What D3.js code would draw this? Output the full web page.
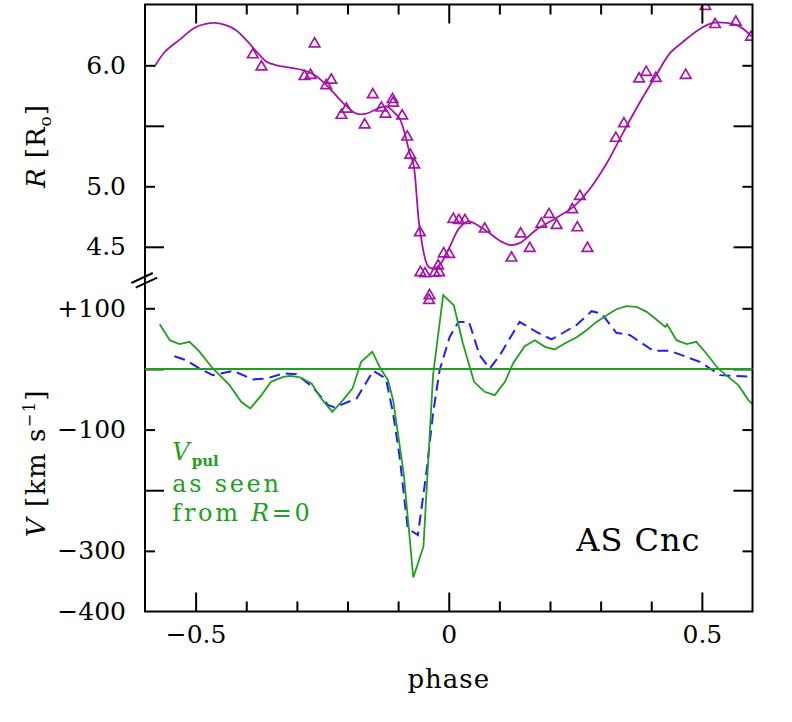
<!DOCTYPE html>
<html>
<head>
<meta charset="utf-8">
<script src="https://cdn.jsdelivr.net/npm/d3@7/dist/d3.min.js"></script>
<style>
  body { margin: 0; background: #fff; }
  text { font-family: "DejaVu Serif", serif; }
</style>
</head>
<body>
<div id="chart"></div>
<script>
// radius fit curve (phase, R in solar radii)
var rCurvePhase = [-0.581,-0.561,-0.532,-0.502,-0.482,-0.462,-0.439,-0.420,-0.397,-0.377,-0.360,-0.340,-0.314,-0.288,-0.265,-0.245,-0.229,-0.209,-0.182,-0.163,-0.136,-0.123,-0.103,-0.097,-0.087,-0.077,-0.070,-0.057,-0.041,-0.031,-0.018,0.002,0.020,0.038,0.068,0.101,0.121,0.140,0.173,0.213,0.246,0.279,0.312,0.344,0.377,0.410,0.437,0.463,0.496,0.522,0.549,0.575,0.598];
var rCurveVal = [5.99,6.11,6.21,6.31,6.34,6.35,6.33,6.29,6.195,6.10,6.03,6.00,5.98,5.96,5.92,5.85,5.78,5.69,5.60,5.60,5.65,5.66,5.59,5.56,5.44,5.27,5.19,4.64,4.34,4.32,4.35,4.50,4.65,4.71,4.65,4.55,4.515,4.53,4.64,4.74,4.83,4.98,5.19,5.44,5.69,5.92,6.10,6.195,6.30,6.35,6.35,6.32,6.24];

// radius measurements (triangles)
var rObsPhase = [-0.387,-0.370,-0.265,-0.285,-0.273,-0.242,-0.232,-0.212,-0.202,-0.166,-0.150,-0.133,-0.125,-0.111,-0.110,-0.092,-0.082,-0.076,-0.068,-0.057,-0.056,-0.047,-0.039,-0.038,-0.028,-0.019,-0.021,-0.010,0.001,0.009,0.020,0.032,0.071,0.124,0.142,0.160,0.183,0.198,0.213,0.244,0.254,0.259,0.274,0.330,0.346,0.376,0.390,0.409,0.468,0.507,0.526,0.567,0.597];
var rObsVal = [6.10,6.00,6.19,5.92,5.93,5.845,5.89,5.60,5.65,5.52,5.77,5.66,5.61,5.73,5.70,5.595,5.42,5.27,5.19,4.63,4.30,4.29,4.07,4.11,4.295,4.30,4.355,4.455,4.45,4.74,4.73,4.73,4.66,4.42,4.62,4.50,4.70,4.78,4.69,4.82,4.67,4.93,4.50,5.41,5.53,5.90,5.955,5.905,5.93,6.50,6.35,6.37,6.245];

// pulsation velocity as seen from R=0 (green)
var vPulPhase = [-0.571,-0.551,-0.532,-0.512,-0.492,-0.466,-0.433,-0.410,-0.392,-0.370,-0.351,-0.327,-0.314,-0.294,-0.271,-0.252,-0.230,-0.209,-0.190,-0.173,-0.151,-0.136,-0.120,-0.110,-0.089,-0.070,-0.050,-0.031,-0.011,0.010,0.028,0.050,0.071,0.091,0.111,0.127,0.150,0.170,0.190,0.209,0.229,0.252,0.272,0.292,0.312,0.331,0.351,0.371,0.391,0.410,0.428,0.431,0.450,0.470,0.489,0.509,0.532,0.552,0.572,0.592,0.600];
var vPulVal = [73.8,47.4,40.9,44.7,28.2,0.8,-26.7,-54.2,-65.1,-43.2,-21.2,-13,-11.4,-14,-23.9,-48.6,-70.7,-51.4,-32.1,11.7,28.2,2.5,-18.5,-51,-172,-344,-293,-10,121.6,105,42,-21.2,-37.7,-43.2,-21.2,9,37.6,47.4,36.4,32.1,42,51.9,63.9,77.6,88.6,98.5,103.5,102.3,94.1,81.5,69.4,73.8,47.4,40.9,44.7,25.5,0.8,-13,-26.7,-51.4,-58];

// radial velocity curve (blue dashed)
var vRadPhase = [-0.542,-0.519,-0.492,-0.466,-0.426,-0.387,-0.360,-0.327,-0.301,-0.271,-0.238,-0.225,-0.182,-0.149,-0.124,-0.110,-0.097,-0.081,-0.061,-0.044,-0.031,-0.018,0.002,0.019,0.040,0.061,0.081,0.101,0.140,0.173,0.203,0.252,0.282,0.302,0.331,0.358,0.404,0.437,0.496,0.536,0.600];
var vRadVal = [21,14.5,0.8,-10.2,-3.1,-17.3,-15.7,-7.4,-8.6,-28.3,-59.6,-63.4,-48.6,-3.1,-16,-73,-145,-263,-274,-170,-73,-2,53,77.6,77.6,22.7,0.8,22.7,77.6,61.1,48.6,72.2,95.2,91.4,59.5,55.7,29.8,29.8,11.7,-10.2,-13];

var xMajor = [-0.5, 0, 0.5];
var xMinor = [-0.4, -0.3, -0.2, -0.1, 0.1, 0.2, 0.3, 0.4];
var rLabelTicks = [6.0, 5.0, 4.5];
var rShortTicks = [6.0, 5.0];
var rLongTicks = [5.5, 4.5];
var vLabelTicks = [100, -100, -300, -400];
var vShortTicks = [100, -100, -300];
var vLongTicks = [0, -200];

(function(){
  var width = 792,
      height = 722;
  var left = 145, right = 752.5, top = 4.5, bottom = 611.5;

  var purple = '#a514a8',
      green = '#20a020',
      blue = '#1e1eff';

  var svg = d3.select('#chart')
    .append('svg')
    .attr('width', width)
    .attr('height', height);

  var x = d3.scaleLinear().domain([-0.6, 0.6]).range([left, right]);
  var yR = d3.scaleLinear().domain([4.0, 6.5]).range([307.3, 4.8]);
  var yV = d3.scaleLinear().domain([-400, 100]).range([bottom, 308.3]);

  svg.append('clipPath').attr('id', 'plot')
    .append('rect')
    .attr('x', left).attr('y', top)
    .attr('width', right - left).attr('height', bottom - top);

  var plot = svg.append('g').attr('clip-path', 'url(#plot)');

  var rCurve = rCurvePhase.map(function(p, i){ return [p, rCurveVal[i]] });
  plot.append('path')
    .datum(rCurve)
    .attr('fill', 'none')
    .attr('stroke', purple)
    .attr('stroke-width', 1.8)
    .attr('d', d3.line()
      .x(function(d){ return x(d[0]) })
      .y(function(d){ return yR(d[1]) })
      .curve(d3.curveCatmullRom.alpha(0.5)));

  var vRad = vRadPhase.map(function(p, i){ return [p, vRadVal[i]] });
  plot.append('path')
    .datum(vRad)
    .attr('fill', 'none')
    .attr('stroke', blue)
    .attr('stroke-width', 2)
    .attr('stroke-dasharray', '11,6')
    .attr('d', d3.line()
      .x(function(d){ return x(d[0]) })
      .y(function(d){ return yV(d[1]) }));

  var vPul = vPulPhase.map(function(p, i){ return [p, vPulVal[i]] });
  plot.append('path')
    .datum(vPul)
    .attr('fill', 'none')
    .attr('stroke', green)
    .attr('stroke-width', 1.8)
    .attr('d', d3.line()
      .x(function(d){ return x(d[0]) })
      .y(function(d){ return yV(d[1]) }));

  var rObs = rObsPhase.map(function(p, i){ return [p, rObsVal[i]] });
  plot.selectAll('.obs')
    .data(rObs)
    .enter().append('path')
    .attr('class', 'obs')
    .attr('transform', function(d){ return 'translate(' + x(d[0]) + ',' + (yR(d[1]) + 1.5) + ')' })
    .attr('d', d3.symbol().type(d3.symbolTriangle).size(48))
    .attr('fill', 'none')
    .attr('stroke', purple)
    .attr('stroke-width', 1.7);

  // frame
  svg.append('rect')
    .attr('x', left).attr('y', top)
    .attr('width', right - left).attr('height', bottom - top)
    .attr('fill', 'none')
    .attr('stroke', '#000')
    .attr('stroke-width', 2);

  function ticks(axis, pos){
    var g = svg.append('g').attr('transform', pos).call(axis);
    g.select('.domain').remove();
    g.selectAll('line').attr('stroke', '#000').attr('stroke-width', 2);
    g.selectAll('text')
      .attr('font-family', '"DejaVu Serif", serif')
      .attr('font-size', 25)
      .attr('fill', '#000');
    return g;
  }
  var none = function(){ return '' };

  // x axes
  ticks(d3.axisBottom(x).tickValues(xMajor).tickSizeInner(-19).tickSizeOuter(0).tickPadding(14)
    .tickFormat(function(d){ return d === 0 ? '0' : d3.format('.1f')(d) }), 'translate(0,' + bottom + ')');
  ticks(d3.axisBottom(x).tickValues(xMinor).tickSizeInner(-10).tickSizeOuter(0).tickFormat(none), 'translate(0,' + bottom + ')');
  ticks(d3.axisTop(x).tickValues(xMajor).tickSizeInner(-19).tickSizeOuter(0).tickFormat(none), 'translate(0,' + top + ')');
  ticks(d3.axisTop(x).tickValues(xMinor).tickSizeInner(-10).tickSizeOuter(0).tickFormat(none), 'translate(0,' + top + ')');

  // R axes
  ticks(d3.axisLeft(yR).tickValues(rShortTicks).tickSizeInner(-10).tickSizeOuter(0).tickFormat(none), 'translate(' + left + ',0)');
  ticks(d3.axisLeft(yR).tickValues(rLongTicks).tickSizeInner(-19).tickSizeOuter(0).tickFormat(none), 'translate(' + left + ',0)');
  ticks(d3.axisLeft(yR).tickValues(rLabelTicks).tickSize(0).tickPadding(19).tickFormat(d3.format('.1f')), 'translate(' + left + ',0)');
  ticks(d3.axisRight(yR).tickValues(rShortTicks).tickSizeInner(-10).tickSizeOuter(0).tickFormat(none), 'translate(' + right + ',0)');
  ticks(d3.axisRight(yR).tickValues(rLongTicks).tickSizeInner(-19).tickSizeOuter(0).tickFormat(none), 'translate(' + right + ',0)');

  // V axes
  var vFmt = function(d){ return d > 0 ? '+' + d : d3.format('')(d) };
  ticks(d3.axisLeft(yV).tickValues(vShortTicks).tickSizeInner(-10).tickSizeOuter(0).tickFormat(none), 'translate(' + left + ',0)');
  ticks(d3.axisLeft(yV).tickValues(vLongTicks).tickSizeInner(-19).tickSizeOuter(0).tickFormat(none), 'translate(' + left + ',0)');
  ticks(d3.axisLeft(yV).tickValues(vLabelTicks).tickSize(0).tickPadding(19).tickFormat(vFmt), 'translate(' + left + ',0)');
  ticks(d3.axisRight(yV).tickValues(vShortTicks).tickSizeInner(-10).tickSizeOuter(0).tickFormat(none), 'translate(' + right + ',0)');
  ticks(d3.axisRight(yV).tickValues(vLongTicks).tickSizeInner(-19).tickSizeOuter(0).tickFormat(none), 'translate(' + right + ',0)');

  // zero velocity line, over the ticks
  svg.append('line')
    .attr('x1', left).attr('x2', right)
    .attr('y1', yV(0)).attr('y2', yV(0))
    .attr('stroke', green)
    .attr('stroke-width', 2);

  // axis break
  var by = 280.5;
  [[-2.2, 0], [2.2, 6.5]].forEach(function(o){
    svg.append('line')
      .attr('x1', left - 11.5 + o[0]).attr('y1', by + 2.5 + o[1] * 0.7)
      .attr('x2', left + 10 + o[0]).attr('y2', by - 7.5 + o[1] * 0.7)
      .attr('stroke', '#000').attr('stroke-width', 2);
  });

  // axis titles
  var rt = svg.append('text')
    .attr('transform', 'translate(45,146) rotate(-90)')
    .attr('text-anchor', 'middle')
    .attr('font-size', 26)
    .attr('letter-spacing', 1);
  rt.append('tspan').attr('font-style', 'italic').text('R');
  rt.append('tspan').text(' [R');
  rt.append('tspan').attr('font-size', 17).attr('dy', 6).text('o');
  rt.append('tspan').attr('dy', -6).text(']');

  var vt = svg.append('text')
    .attr('transform', 'translate(45,463) rotate(-90)')
    .attr('text-anchor', 'middle')
    .attr('font-size', 26)
    .attr('letter-spacing', 1.5);
  vt.append('tspan').attr('font-style', 'italic').text('V');
  vt.append('tspan').text(' [km s');
  vt.append('tspan').attr('font-size', 16).attr('dy', -10).text('−1');
  vt.append('tspan').attr('dy', 10).text(']');

  svg.append('text')
    .attr('x', x(0)).attr('y', 688)
    .attr('text-anchor', 'middle')
    .attr('font-size', 26)
    .attr('letter-spacing', 1)
    .text('phase');

  // annotations
  var gx = x(-0.546), gy = 460;
  var g1 = svg.append('text')
    .attr('x', gx).attr('y', gy)
    .attr('fill', green)
    .attr('font-size', 24);
  g1.append('tspan').attr('font-style', 'italic').text('V');
  g1.append('tspan').attr('font-size', 15).attr('font-weight', 'bold').attr('dy', 6).attr('dx', 2).text('pul');

  svg.append('text')
    .attr('x', gx).attr('y', gy + 31.5)
    .attr('fill', green)
    .attr('font-size', 24)
    .attr('letter-spacing', 2.7)
    .text('as seen');

  var g3 = svg.append('text')
    .attr('x', gx).attr('y', gy + 60.5)
    .attr('fill', green)
    .attr('font-size', 24)
    .attr('letter-spacing', 2.7);
  g3.append('tspan').text('from ');
  g3.append('tspan').attr('font-style', 'italic').text('R');
  g3.append('tspan').text('=0');

  svg.append('text')
    .attr('x', x(0.252)).attr('y', yV(-300))
    .attr('font-size', 32)
    .attr('letter-spacing', 1)
    .text('AS Cnc');
})()
</script>
</body>
</html>
